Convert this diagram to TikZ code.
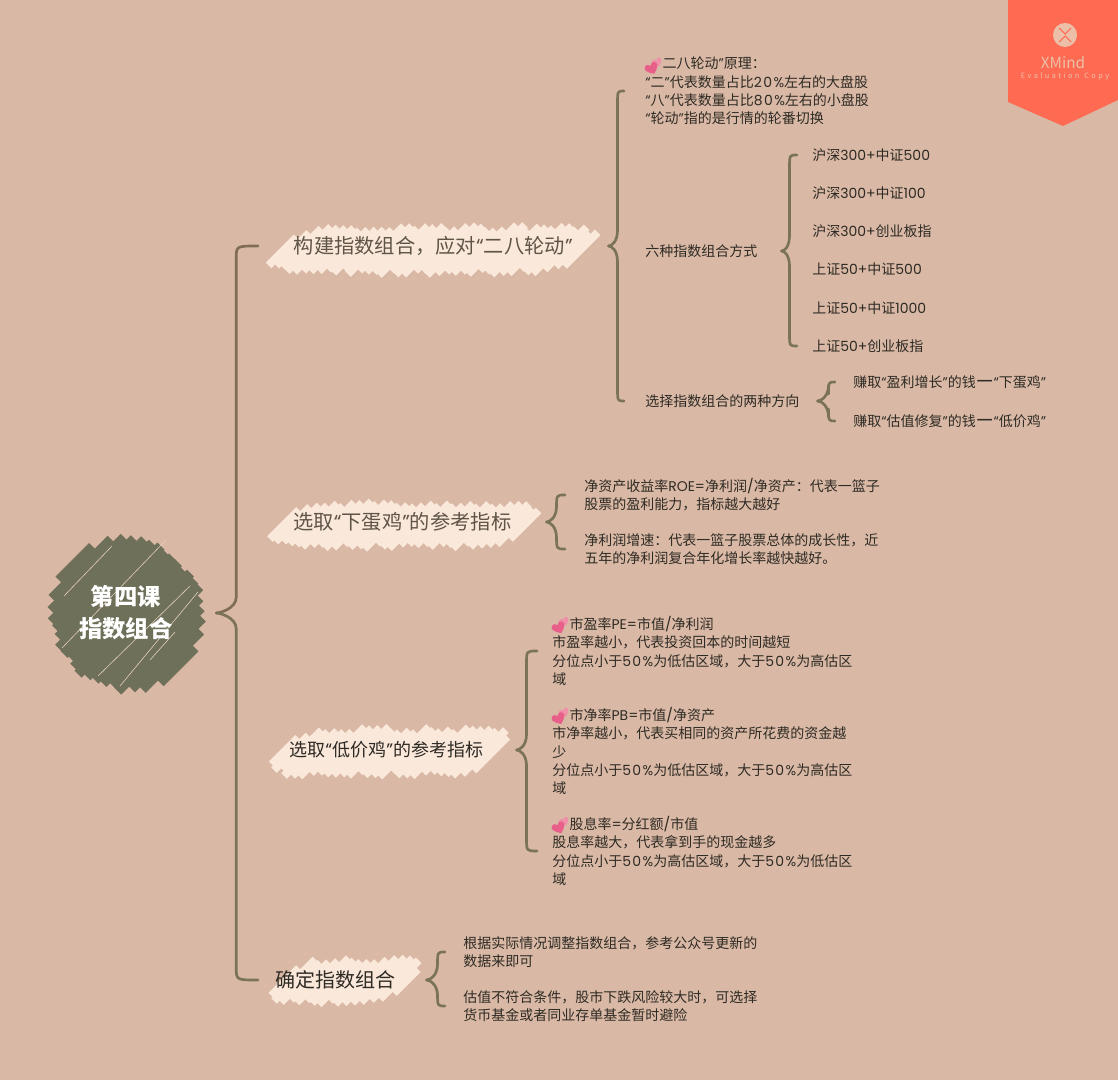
\documentclass[tikz,border=0pt]{standalone}
\usepackage{fontspec}
\usetikzlibrary{calc}
\setmainfont{Noto Sans CJK SC}
\newfontfamily\ltn{Poppins}
\newfontfamily\ltns[LetterSpace=10]{Poppins}
\definecolor{bgc}{HTML}{D9B9A5}
\definecolor{hl}{HTML}{FAE8DB}
\definecolor{olive}{HTML}{6E7059}
\definecolor{brk}{HTML}{7A7359}
\definecolor{brkb}{HTML}{7F6D58}
\definecolor{tagc}{HTML}{FF6B52}
\definecolor{tagl}{HTML}{EBBFA8}
\definecolor{txt}{HTML}{2E2A24}
\definecolor{txtm}{HTML}{5F5547}
\definecolor{heart}{HTML}{E8608A}
\definecolor{heartl}{HTML}{F08FA8}
\newcommand\hrt{\hspace*{13pt}}
\newcommand\ltx[1]{{\ltn #1}}
\newcommand\pc[1]{{\ltns #1\%}}
\newcommand\qo{{\ltn “}}
\newcommand\qc{{\ltn ”}}
\newcommand\ldash{\raisebox{-1.2pt}{\fontsize{15}{15}\ltn\selectfont —}}
\tikzset{
  x=0.75pt,y=-0.75pt,
  leaf/.style={anchor=west,inner sep=0pt,align=left,font=\fontsize{10.5}{13.7}\selectfont,text=txt},
  topic/.style={anchor=west,inner sep=0pt,align=center,font=\fontsize{15.2}{18}\selectfont,text=txtm,minimum height=30pt},
  rootn/.style={circle,inner sep=0pt,minimum size=117pt,align=center,text=white,font=\fontsize{17.5}{24}\selectfont\bfseries},
  brl/.style={line width=2pt,line cap=round,line join=round},
  tagtxt/.style={inner sep=0pt,text=tagl}
}
% one heart: centre, scale, rotation, colour
\newcommand\oneheart[4]{%
  \fill[#4,shift={(#1)},rotate=#3,scale=#2] (0,-2) .. controls (2,-6) and (7,-4) .. (6,0) .. controls (5,3) and (2,4) .. (0,6) .. controls (-2,4) and (-5,3) .. (-6,0) .. controls (-7,-4) and (-2,-6) .. (0,-2) -- cycle;}
% pair of hearts at the first line of a node
\newcommand\hearts[1]{%
  \coordinate (hc) at ($(#1.north west)+(8,9)$);
  \oneheart{$(hc)+(4,-4)$}{0.8}{25}{heartl}
  \oneheart{$(hc)+(-1.5,2)$}{1.1}{25}{heart}}
% scribble highlight: x0 x1 yc half-height seed
\newcommand\scribble[5]{%
  \pgfmathsetseed{#5}%
  \foreach \sx in {#1,\the\numexpr#1+8\relax,...,#2}{%
    \pgfmathsetmacro\uu{abs(2*(\sx-#1)/(#2-#1)-1)}%
    \pgfmathsetmacro\env{sqrt(1-0.6*\uu*\uu*\uu*\uu*\uu*\uu*\uu*\uu)}%
    \pgfmathsetmacro\da{#4*\env*(0.8+0.25*rnd)}%
    \pgfmathsetmacro\db{#4*\env*(0.8+0.25*rnd)}%
    \draw[hl,line width=6pt] (\sx-\da,#3+\da) -- (\sx+\db,#3-\db);
  }}
% brace: parent, top child, bottom child, tip gap, trunk offset from tip, end gap, upper colour, lower colour
\newcommand\brc[8]{%
  \path let \p1=(#1.east),\p2=(#2.west),\p3=(#3.west) in
    coordinate (tipc) at (\x1+#4*0.75pt,\y1)
    coordinate (upc) at (\x1+#4*0.75pt+#5*0.75pt,\y2)
    coordinate (loc) at (\x1+#4*0.75pt+#5*0.75pt,\y3)
    coordinate (upe) at (\x2-#6*0.75pt,\y2)
    coordinate (loe) at (\x3-#6*0.75pt,\y3);
  \draw[brl,#7] (upe) .. controls (upc) and (upc) .. ($(upc)+(0,12)$)
     -- ($(tipc -| upc)+(0,-16)$) .. controls ($(tipc -| upc)+(0,-4)$) and ($(tipc)+(3,0)$) .. (tipc);
  \draw[brl,#8] (tipc) .. controls ($(tipc)+(3,0)$) and ($(tipc -| loc)+(0,4)$) .. ($(tipc -| loc)+(0,16)$)
     -- ($(loc)+(0,-12)$) .. controls (loc) and (loc) .. (loe);
}
\begin{document}
\begin{tikzpicture}
\useasboundingbox (0,0) rectangle (1118,1080);
\fill[bgc] (0,0) rectangle (1118,1080);

% watermark tag
\fill[tagc] (1008,0) -- (1118,0) -- (1118,100) -- (1063,126) -- (1008,102) -- cycle;
\fill[tagl] (1065,35) circle (12);
\draw[tagc,line width=0.8pt] (1059,28) -- (1065,34) -- (1071,28) (1059,42) -- (1065,36) -- (1071,42);
\node[tagtxt,font=\fontsize{11.5}{11}\selectfont] (xm) at (1063,63) {XMind};
\node[tagtxt,font=\fontsize{5.5}{6}\selectfont] (xe) at (1065,76) {E\,\,v\,\,a\,\,l\,\,u\,\,a\,\,t\,\,i\,\,o\,\,n\,\,\,\,C\,\,o\,\,p\,\,y};

% root scribble
\pgfmathsetseed{41}
\foreach \d in {-72,-64,...,72}{
  \pgfmathsetmacro\hl{sqrt(76*76-\d*\d)}
  \pgfmathsetmacro\la{\hl*(0.94+0.1*rnd)}
  \pgfmathsetmacro\lb{\hl*(0.94+0.1*rnd)}
  \draw[olive,line width=7.5pt] ({127+0.707*\d-0.707*\la},{614+0.707*\d+0.707*\la}) -- ({127+0.707*\d+0.707*\lb},{614+0.707*\d-0.707*\lb});
}
\draw[bgc!70!white,line width=0.45pt]
  (64,596) -- (112,546)
  (62,648) -- (166,540)
  (98,676) -- (190,586)
  (120,686) -- (198,592)
  (150,660) -- (175,632);

% topic highlights
\scribble{284}{586}{250}{24}{7}
\scribble{284}{526}{525}{23}{11}
\scribble{284}{496}{752}{24}{13}
\scribble{286}{406}{981}{23}{17}

% nodes
\node[rootn] (root) at (126,613) {第四课\\指数组合};
\node[topic,minimum width=262.5pt] (a) at (258,246) {构建指数组合，应对\qo 二八轮动\qc};
\node[topic,minimum width=216pt] (b) at (258,522) {选取\qo 下蛋鸡\qc 的参考指标};
\node[topic,minimum width=192pt,text=txt,font=\fontsize{13.5}{18}\selectfont] (c) at (258,750) {选取\qo 低价鸡\qc 的参考指标};
\node[topic,minimum width=115.5pt,text=txt,font=\fontsize{15}{18}\selectfont] (d) at (258,980) {确定指数组合};

\node[leaf] (a1) at (645,91) {\hrt 二八轮动\qc 原理：\\\qo 二\qc 代表数量占比\pc{20}左右的大盘股\\\qo 八\qc 代表数量占比\pc{80}左右的小盘股\\\qo 轮动\qc 指的是行情的轮番切换};
\node[leaf] (a2) at (645,251) {六种指数组合方式};
\node[leaf] (a3) at (645,401) {选择指数组合的两种方向};
\node[leaf] (s1) at (812,155) {沪深\ltx{300+}中证\ltx{500}};
\node[leaf] (s2) at (812,193) {沪深\ltx{300+}中证\ltx{100}};
\node[leaf] (s3) at (812,231) {沪深\ltx{300+}创业板指};
\node[leaf] (s4) at (812,269) {上证\ltx{50+}中证\ltx{500}};
\node[leaf] (s5) at (812,308) {上证\ltx{50+}中证\ltx{1000}};
\node[leaf] (s6) at (812,346) {上证\ltx{50+}创业板指};
\node[leaf] (t1) at (853,382) {赚取\qo 盈利增长\qc 的钱\ldash\qo 下蛋鸡\qc};
\node[leaf] (t2) at (853,421) {赚取\qo 估值修复\qc 的钱\ldash\qo 低价鸡\qc};
\node[leaf] (b1) at (584,495) {净资产收益率\ltx{ROE=}净利润\ltx{/}净资产：代表一篮子\\股票的盈利能力，指标越大越好};
\node[leaf] (b2) at (584,549) {净利润增速：代表一篮子股票总体的成长性，近\\五年的净利润复合年化增长率越快越好。};
\node[leaf] (c1) at (552,651) {\hrt 市盈率\ltx{PE=}市值\ltx{/}净利润\\市盈率越小，代表投资回本的时间越短\\分位点小于\pc{50}为低估区域，大于\pc{50}为高估区\\域};
\node[leaf] (c2) at (552,751) {\hrt 市净率\ltx{PB=}市值\ltx{/}净资产\\市净率越小，代表买相同的资产所花费的资金越\\少\\分位点小于\pc{50}为低估区域，大于\pc{50}为高估区\\域};
\node[leaf] (c3) at (552,851) {\hrt 股息率\ltx{=}分红额\ltx{/}市值\\股息率越大，代表拿到手的现金越多\\分位点小于\pc{50}为高估区域，大于\pc{50}为低估区\\域};
\node[leaf] (d1) at (463,952) {根据实际情况调整指数组合，参考公众号更新的\\数据来即可};
\node[leaf] (d2) at (463,1006) {估值不符合条件，股市下跌风险较大时，可选择\\货币基金或者同业存单基金暂时避险};

\hearts{a1}
\hearts{c1}
\hearts{c2}
\hearts{c3}

% braces
\brc{root}{a}{d}{12}{20}{0}{brkb}{brk}
\brc{a}{a1}{a3}{0}{9}{21}{brk}{brk}
\brc{a2}{s1}{s6}{24}{8}{15}{brk}{brk}
\brc{a3}{t1}{t2}{18}{11}{18}{brk}{brk}
\brc{b}{b1}{b2}{0}{10}{19}{brk}{brk}
\brc{c}{c1}{c3}{2}{10}{15}{brk}{brk}
\brc{d}{d1}{d2}{14}{11}{18}{brk}{brk}
\end{tikzpicture}
\end{document}
